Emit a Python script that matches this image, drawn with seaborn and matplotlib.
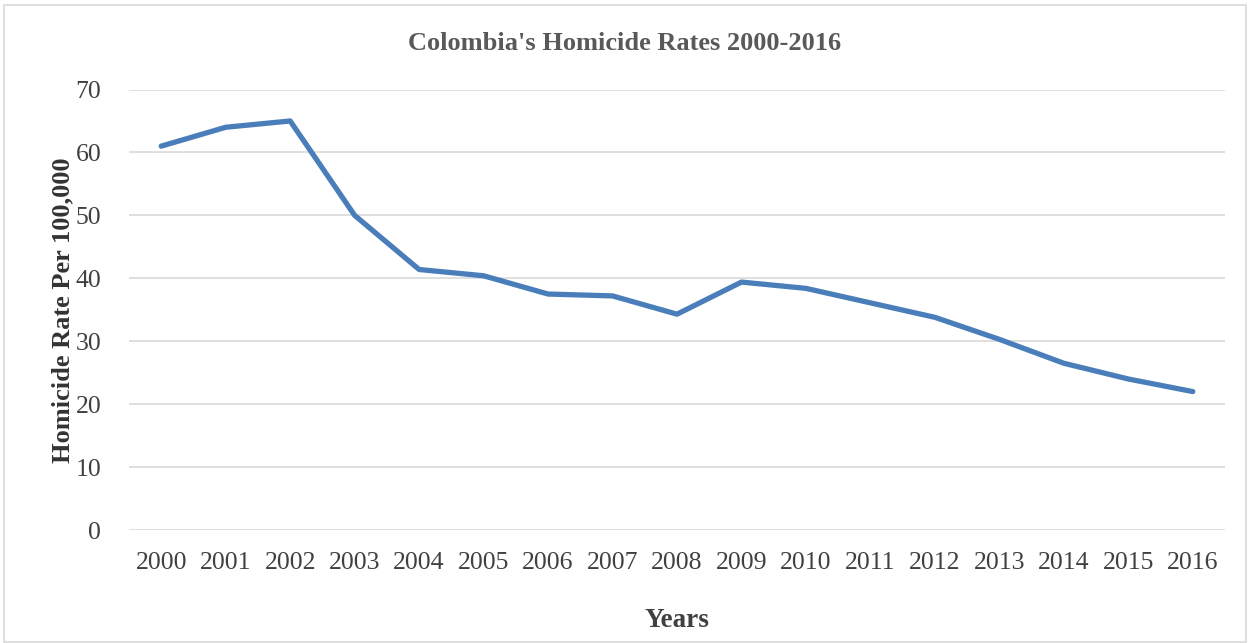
import matplotlib
matplotlib.use("Agg")
import matplotlib.pyplot as plt
from matplotlib.patches import Rectangle
import seaborn as sns
import pandas as pd

years = ["2000", "2001", "2002", "2003", "2004", "2005", "2006", "2007", "2008",
         "2009", "2010", "2011", "2012", "2013", "2014", "2015", "2016"]
rates = [61.0, 64.0, 65.0, 50.0, 41.4, 40.4, 37.5, 37.2, 34.3,
         39.4, 38.4, 36.1, 33.8, 30.3, 26.5, 24.0, 22.0]
y_ticks = [0, 10, 20, 30, 40, 50, 60, 70]

df = pd.DataFrame({"Year": years, "Rate": rates})

sns.set_theme(style="white")
plt.rcParams["font.family"] = ["Liberation Serif", "DejaVu Serif"]

fig = plt.figure(figsize=(12.5, 6.43), dpi=100)
ax = fig.add_axes([0.1032, 0.1757, 0.8768, 0.6851])

sns.lineplot(data=df, x="Year", y="Rate", ax=ax, color="#4A7EBB",
             linewidth=3.8, solid_capstyle="round", solid_joinstyle="round")

ax.set_xlim(-0.5, len(years) - 0.5)
ax.set_ylim(0, 70)
ax.set_yticks(y_ticks)
ax.yaxis.grid(True, color="#D9D9D9", linewidth=1.2)
ax.xaxis.grid(False)
ax.set_axisbelow(True)
for side in ["top", "right", "left", "bottom"]:
    ax.spines[side].set_visible(False)

ax.tick_params(axis="both", length=0, labelsize=18.5, labelcolor="#404040")
ax.tick_params(axis="x", pad=16)
ax.tick_params(axis="y", pad=20)

ax.set_xlabel("Years", fontsize=19.5, fontweight="bold", color="#404040")
ax.xaxis.set_label_coords(0.5, -0.178)
ax.set_ylabel("Homicide Rate Per 100,000", fontsize=19, fontweight="bold",
              color="#333333")
ax.yaxis.set_label_coords(-0.050, 0.5)
fig.text(0.5, 0.932, "Colombia's Homicide Rates 2000-2016", ha="center", va="center",
         fontsize=19, fontweight="bold", color="#595959")

fig.patches.append(Rectangle((0.003, 0.002), 0.994, 0.99, transform=fig.transFigure,
                             fill=False, edgecolor="#D9D9D9", linewidth=1.2))

fig.savefig("out.png", dpi=100, facecolor="white")
